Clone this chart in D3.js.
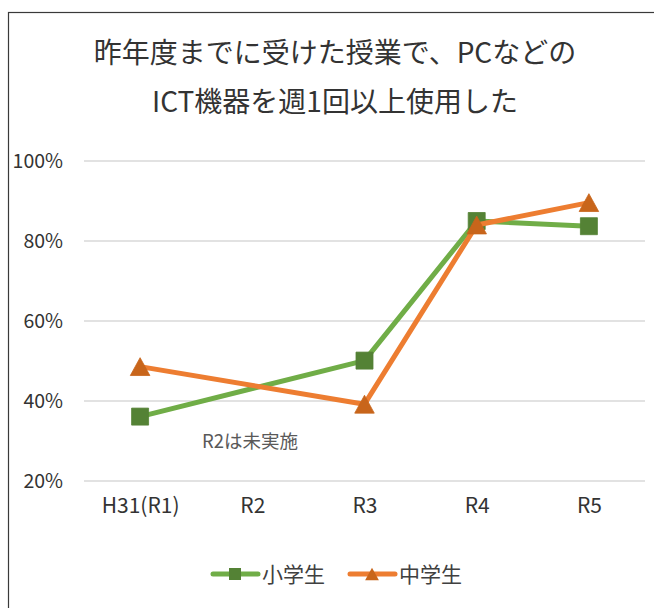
<!DOCTYPE html>
<html>
<head>
<meta charset="utf-8">
<script src="https://cdn.jsdelivr.net/npm/d3@7"></script>
<style>
  body { margin: 0; background: #fff; }
  text { font-family: "Noto Sans CJK JP", "Noto Sans", sans-serif; }
</style>
</head>
<body>
<div id="chart"></div>
<script>
// data (percent)
const categories = ["H31(R1)", "R2", "R3", "R4", "R5"];
const elementary = [36.1, null, 50.1, 85.0, 83.7];   // 小学生
const juniorHigh = [48.6, null, 39.2, 84.0, 89.6];   // 中学生
const yTicks = [20, 40, 60, 80, 100];
const seriesNames = ["小学生", "中学生"];
const titleLines = ["昨年度までに受けた授業で、PCなどの", "ICT機器を週1回以上使用した"];
const note = "R2は未実施";

const width = 654, height = 608;

const svg = d3.select("#chart").append("svg")
    .attr("width", width)
    .attr("height", height);

svg.append("rect")
    .attr("width", width).attr("height", height)
    .attr("fill", "#fff");

// chart frame (runs off the right/bottom edge)
svg.append("rect")
    .attr("x", 8.5).attr("y", 12.5)
    .attr("width", 660).attr("height", 620)
    .attr("fill", "none")
    .attr("stroke", "#3a3a3a")
    .attr("stroke-width", 1.2);

// title
svg.append("g").selectAll("text")
    .data(titleLines)
    .enter().append("text")
    .attr("x", 335)
    .attr("y", (d, i) => 63 + i * 49)
    .attr("text-anchor", "middle")
    .attr("font-size", 28)
    .attr("fill", "#333")
    .text(d => d);

let x = d3.scalePoint()
    .domain(categories)
    .range([84, 645])
    .padding(0.5);

let y = d3.scaleLinear()
    .domain([20, 100])
    .range([481, 161]);

// gridlines
svg.append("g")
    .selectAll("line")
    .data(yTicks)
    .enter().append("line")
    .attr("x1", 84).attr("x2", 645)
    .attr("y1", d => y(d)).attr("y2", d => y(d))
    .attr("stroke", "#d9d9d9")
    .attr("stroke-width", 1.3);

// y axis labels
let yAxis = d3.axisLeft(y)
    .tickValues(yTicks)
    .tickFormat(d => d + "%")
    .tickSize(0)
    .tickPadding(0);

let gy = svg.append("g")
    .attr("transform", "translate(63,0)")
    .call(yAxis);
gy.select(".domain").remove();
gy.selectAll("text")
    .attr("font-size", 19.5)
    .attr("fill", "#333")
    .attr("font-family", "'Noto Sans CJK JP', sans-serif");

// x axis labels
let xAxis = d3.axisBottom(x).tickSize(0).tickPadding(0);
let gx = svg.append("g")
    .attr("transform", "translate(0,498)")
    .call(xAxis);
gx.select(".domain").remove();
gx.selectAll("text")
    .attr("font-size", 21)
    .attr("fill", "#333")
    .attr("font-family", "'Noto Sans CJK JP', sans-serif");

// note
svg.append("text")
    .attr("x", 202).attr("y", 448)
    .attr("font-size", 18.5)
    .attr("fill", "#595959")
    .text(note);

const series = [
    {name: seriesNames[0], values: elementary, line: "#70ad47", marker: "#548235", shape: "square"},
    {name: seriesNames[1], values: juniorHigh, line: "#ed7d31", marker: "#c8651b", shape: "triangle"}
];

function markerPath(shape, s) {
    if (shape === "square") {
        return "M" + (-s / 2) + "," + (-s / 2) + "h" + s + "v" + s + "h" + (-s) + "Z";
    }
    let w = s * 1.15, h = s * 1.05;
    return "M0," + (-h / 2) + "L" + (w / 2) + "," + (h / 2) + "L" + (-w / 2) + "," + (h / 2) + "Z";
}

let line = d3.line()
    .x(d => x(d.cat))
    .y(d => y(d.v));

series.forEach(function (s) {
    let pts = categories.map((c, i) => ({cat: c, v: s.values[i]}))
        .filter(d => d.v !== null);

    svg.append("path")
        .datum(pts)
        .attr("d", line)
        .attr("fill", "none")
        .attr("stroke", s.line)
        .attr("stroke-width", 5)
        .attr("stroke-linejoin", "round");

    svg.append("g")
        .selectAll("path")
        .data(pts)
        .enter().append("path")
        .attr("transform", d => "translate(" + x(d.cat) + "," + y(d.v) + ")")
        .attr("d", markerPath(s.shape, 17))
        .attr("fill", s.marker)
        .attr("stroke", s.marker)
        .attr("stroke-width", 0.8);
});

// legend
let legend = svg.append("g")
    .selectAll("g")
    .data(series)
    .enter().append("g")
    .attr("transform", (d, i) => "translate(" + (213 + i * 137) + ",574)");

legend.append("line")
    .attr("x1", 0).attr("x2", 45)
    .attr("stroke", d => d.line)
    .attr("stroke-width", 5)
    .attr("stroke-linecap", "round");

legend.append("path")
    .attr("transform", "translate(22,0)")
    .attr("d", d => markerPath(d.shape, 12))
    .attr("fill", d => d.marker);

legend.append("text")
    .attr("x", 49)
    .attr("y", 8)
    .attr("font-size", 21)
    .attr("fill", "#404040")
    .text(d => d.name);
</script>
</body>
</html>
